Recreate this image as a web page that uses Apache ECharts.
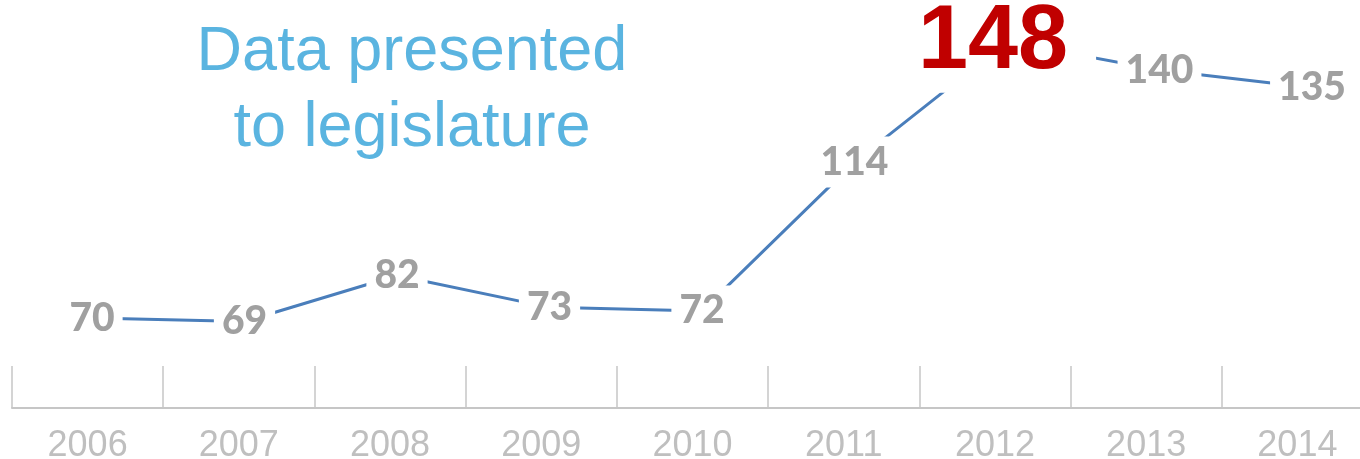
<!DOCTYPE html>
<html>
<head>
<meta charset="utf-8">
<script src="https://cdn.jsdelivr.net/npm/echarts@6/dist/echarts.min.js"></script>
<style>
  html, body { margin: 0; padding: 0; background: #fff; }
  #param { width: 1360px; height: 459px; }
</style>
</head>
<body>
<div id="param"></div>
<script>
var years = ['2006', '2007', '2008', '2009', '2010', '2011', '2012', '2013', '2014'];
var counts = [70, 69, 82, 73, 72, 114, 148, 140, 135];
var peakYear = '2012';
var titleLines = ['Data presented', 'to legislature'];

var myChart = echarts.init(document.getElementById('param'));

// the peak year gets its own big red label
var lineData = counts.map(function (v, i) {
    if (years[i] !== peakYear) return v;
    return {
        value: v,
        label: {
            fontFamily: 'Liberation Sans, Arial, sans-serif',
            fontWeight: 'bold',
            fontSize: 90,
            lineHeight: 90,
            color: '#c00000',
            offset: [-4, 2],
            padding: [6, 28, 2, 8]
        }
    };
});

var option = {
    animation: false,
    grid: [
        {left: 12, width: 1361, top: 0, bottom: 51, outerBoundsMode: 'none'},
        {left: 15.75, width: 1372.5, top: 0, bottom: 51, outerBoundsMode: 'none'}
    ],
    xAxis: [{
        type: 'category',
        gridIndex: 0,
        data: years,
        axisLine: {show: true, lineStyle: {color: '#c6c6c6', width: 2}},
        axisTick: {show: true, interval: 0, inside: true, length: 42, lineStyle: {color: '#c6c6c6', width: 1.5}},
        axisLabel: {
            color: '#bfbfbf',
            fontFamily: 'Liberation Sans, Arial, sans-serif',
            fontSize: 36,
            margin: 20
        }
    }, {
        type: 'category',
        gridIndex: 1,
        data: years,
        show: false
    }],
    yAxis: [{
        type: 'value', gridIndex: 0, min: 44.6, max: 159.75, show: false
    }, {
        type: 'value', gridIndex: 1, min: 44.6, max: 159.75, show: false
    }],
    graphic: [{
        type: 'text',
        x: 412,
        y: 91,
        style: {
            text: titleLines.join('\n'),
            fill: '#5ab4e0',
            font: '63px "Liberation Sans", Arial, sans-serif',
            lineHeight: 76,
            align: 'center',
            verticalAlign: 'middle'
        }
    }],
    series: [{
        type: 'line',
        xAxisIndex: 1,
        yAxisIndex: 1,
        data: lineData,
        symbol: 'circle',
        symbolSize: 0,
        showSymbol: true,
        clip: false,
        lineStyle: {color: '#4a7ebb', width: 3},
        itemStyle: {color: '#4a7ebb'},
        label: {
            show: true,
            position: 'inside',
            fontFamily: 'Lato, sans-serif',
            fontWeight: 900,
            fontSize: 39,
            color: '#a0a0a0',
            backgroundColor: '#ffffff',
            padding: [6, 8]
        }
    }]
};

myChart.setOption(option);
</script>
</body>
</html>
